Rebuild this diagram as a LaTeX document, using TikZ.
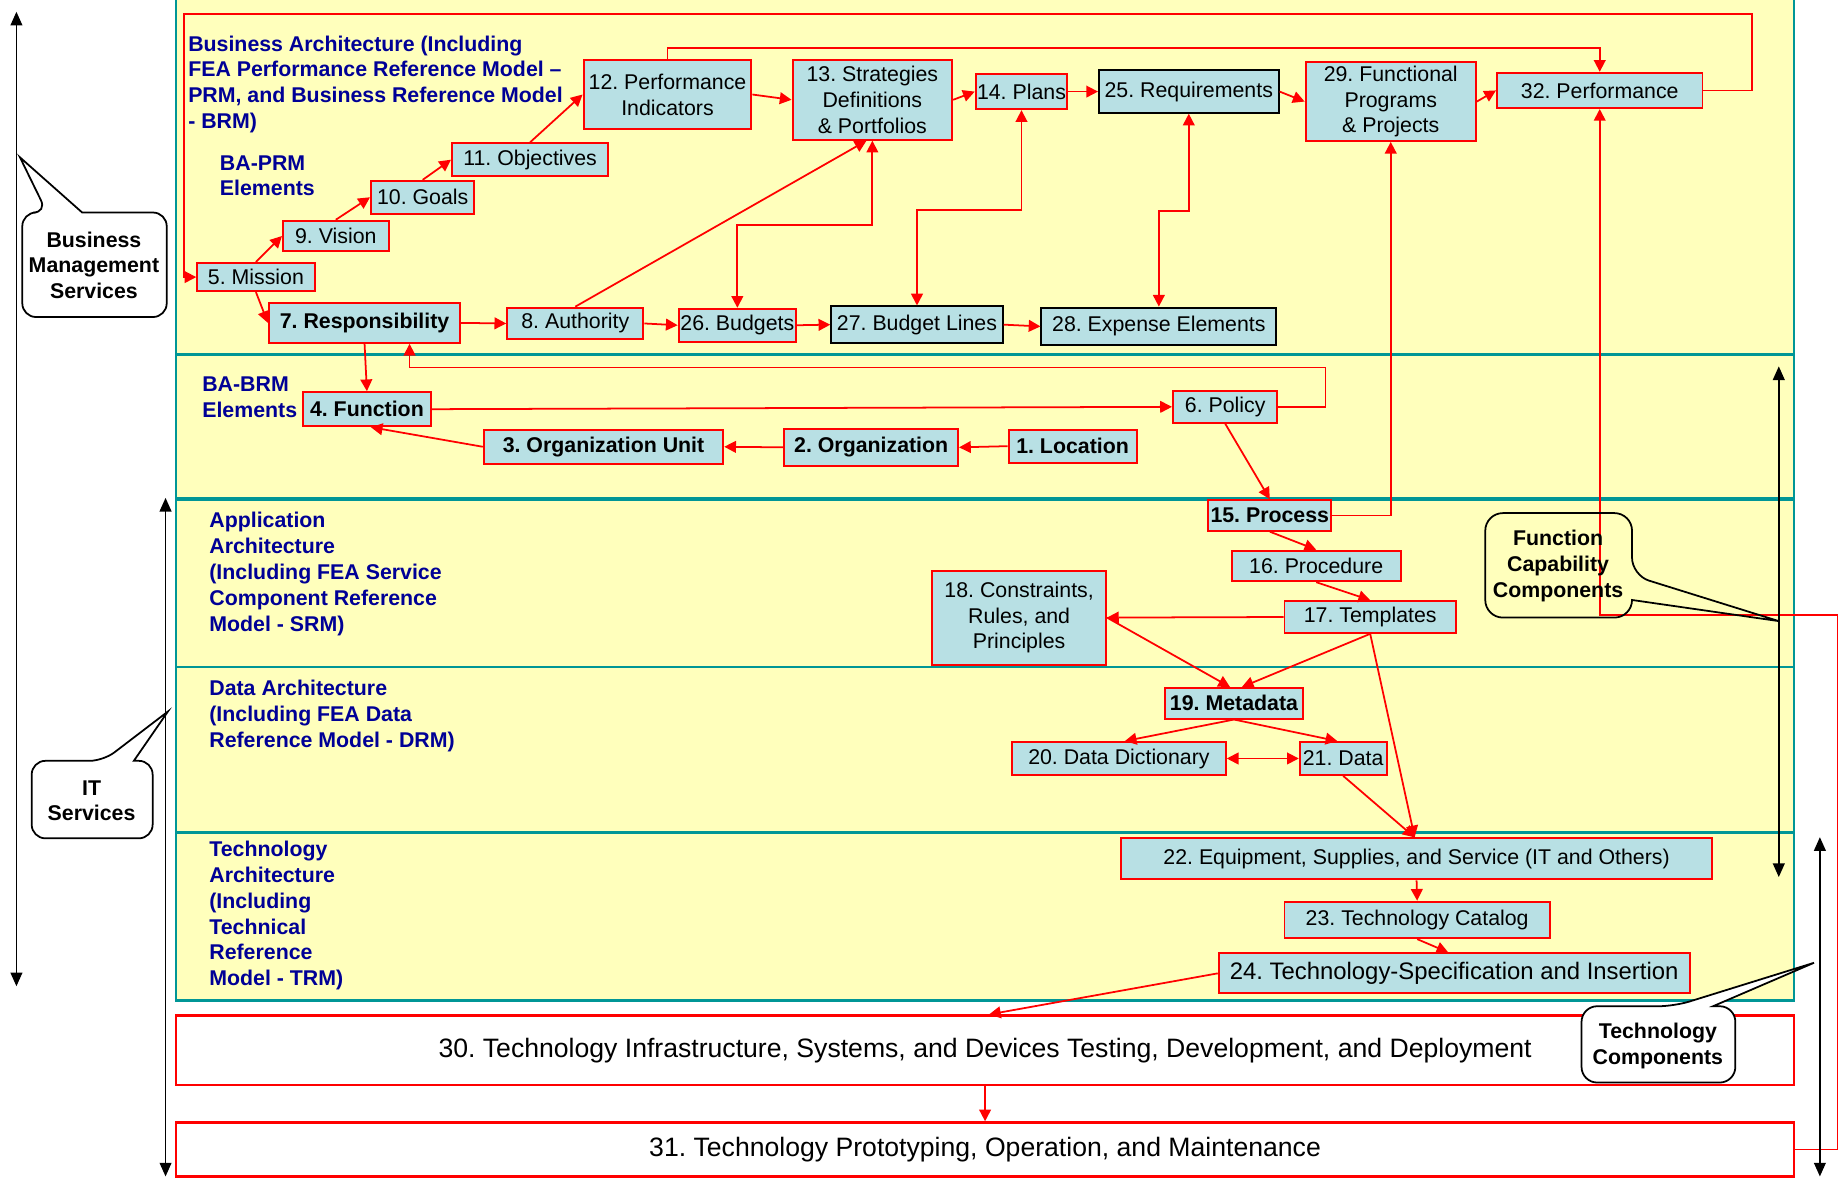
\documentclass[tikz,border=0pt]{standalone}
\usepackage{fontspec}
\setmainfont{Liberation Sans}
\usetikzlibrary{arrows.meta, positioning}
\frenchspacing

\definecolor{boxblue}{RGB}{184,224,228}
\definecolor{bandyellow}{RGB}{255,255,188}
\definecolor{bandteal}{RGB}{0,150,150}
\definecolor{titlenavy}{RGB}{0,0,150}

\tikzset{
  band/.style={draw=bandteal, fill=bandyellow, line width=1.2pt},
  blk/.style={draw=red, fill=boxblue, line width=1pt, inner sep=0pt, align=center, font=\fontsize{10.9}{13.2}\selectfont},
  blkb/.style={blk, font=\fontsize{10.9}{13.2}\selectfont\bfseries},
  blkk/.style={blk, draw=black, line width=1pt},
  sz/.style 2 args={minimum width=#1*0.6pt, minimum height=#2*0.6pt},
  arr/.style={draw=red, line width=0.9pt, -{Triangle[length=6pt,width=6pt]}},
  darr/.style={draw=red, line width=0.9pt, {Triangle[length=6pt,width=6pt]}-{Triangle[length=6pt,width=6pt]}},
  bandtitle/.style={text=titlenavy, font=\fontsize{10.9}{13.2}\selectfont\bfseries, align=left, inner sep=0pt, anchor=north west},
  callout/.style={draw=black, line width=0.9pt},
  calltext/.style={font=\fontsize{10.9}{13.2}\selectfont\bfseries, align=center, inner sep=0pt},
  bigbox/.style={draw=red, fill=white, line width=1.2pt, inner sep=0pt, font=\fontsize{13.6}{16}\selectfont},
  bar/.style={draw=black, line width=0.9pt, {Triangle[length=7pt,width=6pt]}-{Triangle[length=7pt,width=6pt]}}
}

\begin{document}
\begin{tikzpicture}[x=0.6pt, y=-0.6pt]
    \useasboundingbox (0,0) rectangle (1568,1003);

    % Architecture bands
    \draw[band] (150,-3) rectangle (1528,302);
    \draw[band] (150,302) rectangle (1528,424);
    \draw[band] (150,426) rectangle (1528,568);
    \draw[band] (150,568) rectangle (1528,709);
    \draw[band] (150,709) rectangle (1528,852);

    % Band titles
    \node[bandtitle] (batitle) at (160,30) {Business Architecture (Including\\FEA Performance Reference Model –\\PRM, and Business Reference Model\\- BRM)};
    \node[bandtitle] (prmtitle) at (187,132) {BA-PRM\\Elements};
    \node[bandtitle] (brmtitle) at (172,321) {BA-BRM\\Elements};
    \node[bandtitle] (apptitle) at (178,436) {Application\\Architecture\\(Including FEA Service\\Component Reference\\Model - SRM)};
    \node[bandtitle] (datatitle) at (178,579) {Data Architecture\\(Including FEA Data\\Reference Model - DRM)};
    \node[bandtitle] (techtitle) at (178,716) {Technology\\Architecture\\(Including\\Technical\\Reference\\Model - TRM)};

    % Bottom boxes
    \node[bigbox, sz={1378}{59}] (infra) at (839,894.5) {30. Technology Infrastructure, Systems, and Devices Testing, Development, and Deployment};
    \node[bigbox, sz={1378}{46}] (proto) at (839,979) {31. Technology Prototyping, Operation, and Maintenance};

    % BA-PRM elements
    \node[blk, sz={100}{24}] (mission) at (218,236) {5. Mission};
    \node[blk, sz={90}{26}] (vision) at (286,201) {9. Vision};
    \node[blk, sz={88}{28}] (goals) at (360,168) {10. Goals};
    \node[blk, sz={133}{28}] (objectives) at (451.5,136) {11. Objectives};
    \node[blk, sz={143}{59}] (perfind) at (568.5,80.5) {12. Performance\\Indicators};
    \node[blk, sz={136}{68}] (strat) at (743,85) {13. Strategies\\Definitions\\\& Portfolios};
    \node[blk, sz={78}{30}] (plans) at (870,78) {14. Plans};
    \node[blkk, sz={153}{36}] (reqs) at (1012.5,78) {25. Requirements};
    \node[blk, sz={145}{67}] (funcprog) at (1184.5,86.5) {29. Functional\\Programs\\\& Projects};
    \node[blk, sz={175}{30}] (perf) at (1362.5,77) {32. Performance};
    \node[blkb, sz={163}{34}] (resp) at (310.5,275) {7. Responsibility};
    \node[blk, sz={116}{27}] (auth) at (490,275.5) {8. Authority};
    \node[blk, sz={100}{28}] (budgets) at (628,277) {26. Budgets};
    \node[blkk, sz={146}{31}] (blines) at (781,276.5) {27. Budget Lines};
    \node[blkk, sz={200}{32}] (expense) at (987,278) {28. Expense Elements};

    % BA-BRM elements
    \node[blkb, sz={109}{29}] (func) at (312.5,348.5) {4. Function};
    \node[blk, sz={89}{27}] (policy) at (1043.5,346.5) {6. Policy};
    \node[blkb, sz={204}{29}] (orgunit) at (514,380.5) {3. Organization Unit};
    \node[blkb, sz={148}{32}] (org) at (742,381) {2. Organization};
    \node[blkb, sz={109}{28}] (loc) at (913.5,380) {1. Location};

    % Application elements
    \node[blkb, sz={105}{26}] (process) at (1081.5,439) {15. Process};
    \node[blk, sz={144}{26}] (proc) at (1121,482) {16. Procedure};
    \node[blk, sz={146}{27}] (templ) at (1167,525.5) {17. Templates};
    \node[blk, sz={148}{80}] (constr) at (868,526) {18. Constraints,\\Rules, and\\Principles};

    % Data elements
    \node[blkb, sz={118}{26}] (meta) at (1051,599) {19. Metadata};
    \node[blk, sz={182}{28}] (dict) at (953,646) {20. Data Dictionary};
    \node[blk, sz={74}{28}] (data) at (1144,646) {21. Data};

    % Technology elements
    \node[blk, sz={503}{35}] (equip) at (1206.5,731.5) {22. Equipment, Supplies, and Service (IT and Others)};
    \node[blk, sz={226}{31}] (catalog) at (1207,783.5) {23. Technology Catalog};
    \node[blk, sz={401}{34}, font=\fontsize{12.2}{14}\selectfont] (spec) at (1238.5,829) {24. Technology-Specification and Insertion};

    % Performance chain
    \draw[arr] (mission.north) -- (vision.west);
    \draw[arr] (vision.north) -- (goals.west);
    \draw[arr] (goals.north) -- (objectives.west);
    \draw[arr] (objectives.north) -- (perfind.west);
    \draw[arr] (perfind.east) -- (strat.west);
    \draw[arr] (strat.east) -- (plans.west);
    \draw[arr] (plans.east) -- (reqs.west);
    \draw[arr] (reqs.east) -- (funcprog.west);
    \draw[arr] (funcprog.east) -- (perf.west);

    % Responsibility chain
    \draw[arr] (mission.south) -- (resp.west);
    \draw[arr] (resp.east) -- (auth.west);
    \draw[arr] (auth.east) -- (budgets.west);
    \draw[arr] (budgets.east) -- (blines.west);
    \draw[arr] (blines.east) -- (expense.west);
    \draw[arr] (auth.north) -- ([xshift=-3pt]strat.south);
    \draw[darr] (strat.south) -- ++(0,72) -| (budgets.north);
    \draw[darr] (plans.south) -- ++(0,85) -| (blines.north);
    \draw[darr] (reqs.south) -- ++(0,83) -| (expense.north);

    % Feedback loops
    \coordinate (loopR) at (1492,12);
    \coordinate (loopL) at (157,12);
    \draw[arr] (perf.east) -| (loopR) -- (loopL) |- (mission.west);
    \draw[arr] (perfind.north) -- ++(0,-9) -| (perf.north);

    % BA-BRM links
    \coordinate (polR) at (1129,313);
    \draw[arr] (resp.south) -- (func.north);
    \draw[arr] (policy.east) -| (polR) -| ([xshift=23pt]resp.south);
    \draw[arr] (func.east) -- (policy.west);
    \draw[arr] (orgunit.west) -- ([xshift=2pt]func.south);
    \draw[arr] (org.west) -- (orgunit.east);
    \draw[arr] (loc.west) -- (org.east);

    % Application and data links
    \draw[arr] (policy.south) -- (process.north);
    \draw[arr] (process.east) -| (funcprog.south);
    \draw[arr] (process.south) -- (proc.north);
    \draw[arr] (proc.south) -- (templ.north);
    \draw[arr] (templ.west) -- (constr.east);
    \draw[arr] (constr.east) -- ([xshift=-2pt]meta.north);
    \draw[arr] (templ.south) -- ([xshift=4pt]meta.north);
    \draw[arr] (templ.south) -- ([xshift=-1pt]equip.north);
    \draw[arr] (meta.south) -- ([xshift=3pt]dict.north);
    \draw[arr] (meta.south) -- ([xshift=-3pt]data.north);
    \draw[darr] (dict.east) -- (data.west);
    \draw[arr] (data.south) -- ([xshift=-1pt]equip.north);

    % Technology links
    \draw[arr] (equip.south) -- (catalog.north);
    \draw[arr] (catalog.south) -- ([xshift=-3pt]spec.north);
    \draw[arr] (spec.west) -- ([xshift=2pt]infra.north);
    \draw[arr] (infra.south) -- (proto.north);

    % Return line from 31 to 32
    \coordinate (edgeB) at (1565,979);
    \coordinate (edgeT) at (1565,524);
    \draw[draw=red, line width=0.7pt] (proto.east) -- (edgeB) -- (edgeT);
    \draw[arr] (edgeT) -| (perf.south);

    % Range arrows
    \coordinate (bmsTop) at (14,10);
    \coordinate (bmsBot) at (14,840);
    \coordinate (itTop) at (141,424);
    \coordinate (itBot) at (141,1002);
    \coordinate (fccTop) at (1515,312);
    \coordinate (fccBot) at (1515,747);
    \coordinate (tcTop) at (1550,713);
    \coordinate (tcBot) at (1550,1002);
    \draw[bar] (bmsTop) -- (bmsBot);
    \draw[bar] (itTop) -- (itBot);
    \draw[bar] (fccTop) -- (fccBot);
    \draw[bar] (tcTop) -- (tcBot);

    % Callouts
    \draw[callout, fill=white] (19,226) [rounded corners=7pt] -- (19,181) -- (40,181) [sharp corners] -- (17,134) -- (70,181) [rounded corners=7pt] -- (142,181) -- (142,270) -- (19,270) -- cycle;
    \node[calltext] (bms) at (80,226) {Business\\Management\\Services};

    \draw[callout, fill=white] (27,681) [rounded corners=7pt] -- (27,648) -- (88,648) [sharp corners] -- (143,606) -- (114,648) [rounded corners=7pt] -- (130,648) -- (130,714) -- (27,714) -- cycle;
    \node[calltext] (its) at (78,682) {IT\\Services};

    \draw[callout] (1327,437) [rounded corners=9pt] -- (1390,437) -- (1390,490) [sharp corners] -- (1515,529) -- (1390,511) [rounded corners=9pt] -- (1390,526) -- (1265,526) -- (1265,437) -- cycle;
    \node[calltext] (fcc) at (1327,482) {Function\\Capability\\Components};

    \draw[callout, fill=white] (1412,922) [rounded corners=8pt] -- (1347,922) -- (1347,857) -- (1426,857) [sharp corners] -- (1545,820) -- (1459,857) [rounded corners=8pt] -- (1478,857) -- (1478,922) -- cycle;
    \node[calltext] (tc) at (1412,891) {Technology\\Components};
\end{tikzpicture}
\end{document}
